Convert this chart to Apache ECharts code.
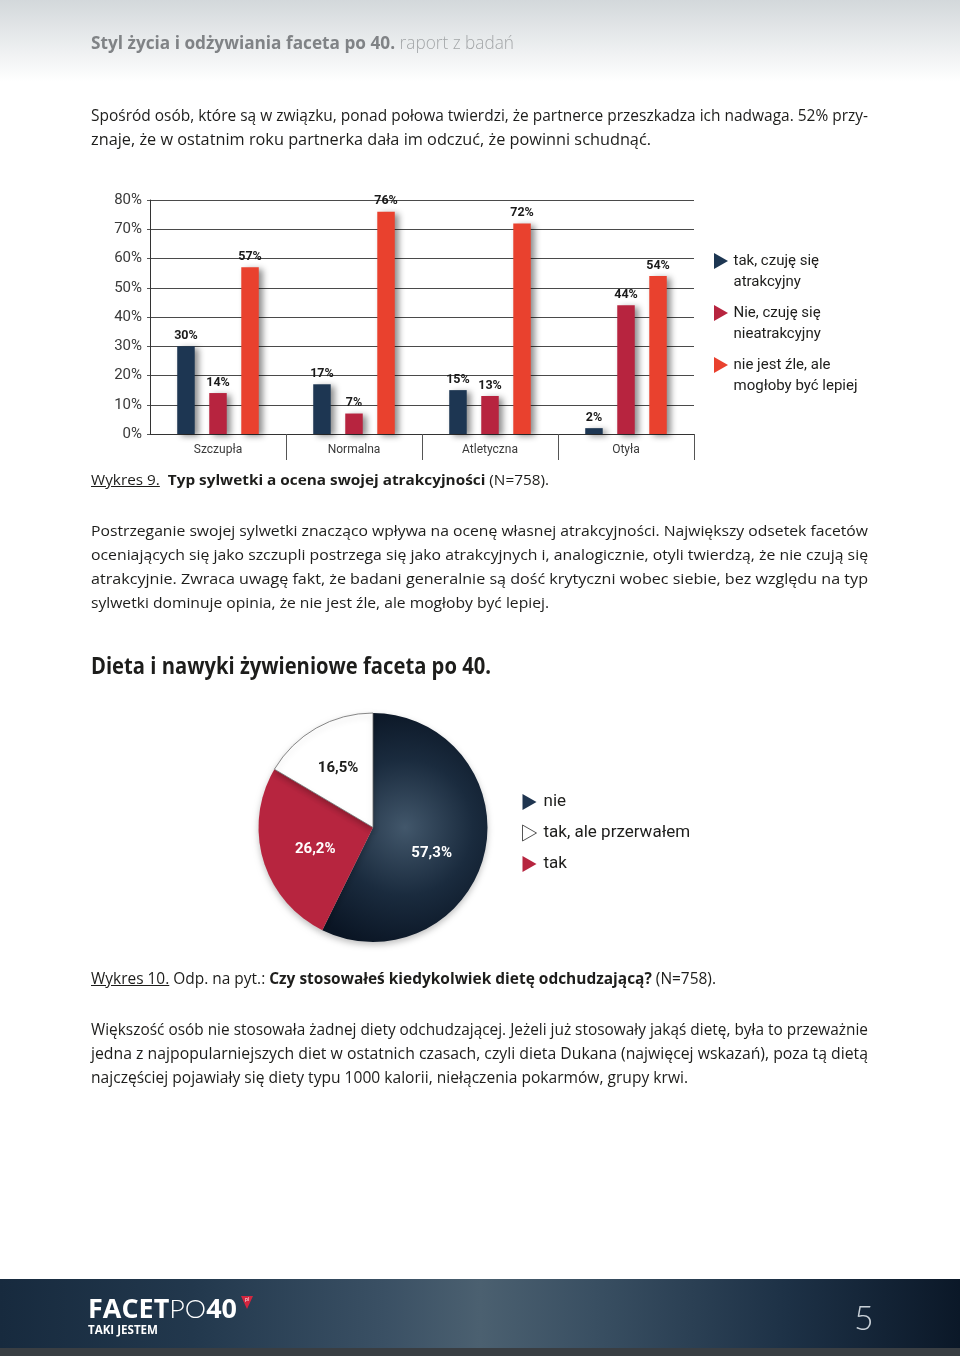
<!DOCTYPE html>
<html lang="pl"><head><meta charset="utf-8">
<script src="https://cdn.jsdelivr.net/npm/echarts@6/dist/echarts.min.js"></script>
<style>
html,body{margin:0;padding:0;background:#fff;}
body{width:960px;height:1356px;position:relative;overflow:hidden;font-family:"Open Sans","Noto Sans",sans-serif;color:#1d1d1b;}
#hdr{position:absolute;left:0;top:0;width:960px;height:82px;background:linear-gradient(#d3d8db,#ffffff);z-index:0;}
#chart{position:absolute;left:0;top:0;width:960px;height:1356px;z-index:1;}
.t{position:absolute;white-space:nowrap;transform-origin:0 50%;z-index:2;}
#foot{position:absolute;left:0;top:1279px;width:960px;height:69px;z-index:0;
 background:linear-gradient(90deg,#172a3e 0%,#22384d 20%,#3a5064 40%,#4b6070 50%,#394f62 62%,#1d3146 82%,#0b1828 100%);}
#foot2{position:absolute;left:0;top:1348px;width:960px;height:8px;background:#393e43;z-index:0;}
#logoTri{position:absolute;left:241px;top:1296px;width:0;height:0;border-left:6px solid transparent;border-right:6px solid transparent;border-top:13px solid #d3263f;z-index:2;}
</style>
</head><body>
<div id="hdr"></div>
<div id="foot"></div>
<div id="foot2"></div>
<div id="logoTri"></div>
<div id="chart"></div>
<script>
// ---------- data ----------
const categories = ['Szczupła', 'Normalna', 'Atletyczna', 'Otyła'];
const attractive = [30, 17, 15, 2];
const unattractive = [14, 7, 13, 44];
const couldBeBetter = [57, 76, 72, 54];
const barSeriesNames = ['tak, czuję się atrakcyjny', 'Nie, czuję się nieatrakcyjny', 'nie jest źle, ale mogłoby być lepiej'];
const barLegendLines = [['tak, czuję się', 'atrakcyjny'], ['Nie, czuję się', 'nieatrakcyjny'], ['nie jest źle, ale', 'mogłoby być lepiej']];
const yMin = 0, yMax = 80, yStep = 10;

const pieNames = ['nie', 'tak', 'tak, ale przerwałem'];
const pieValues = [57.3, 26.2, 16.5];
const pieLegendOrder = ['nie', 'tak, ale przerwałem', 'tak'];

// ---------- page text ----------
const textLines = [
  {h:'<b style="color:#808386">Styl życia i odżywiania faceta po 40.</b><span style="color:#a3a6a8;font-weight:300"> raport z badań</span>', x:91, y:42, w:423, fs:18},
  {h:'Spośród osób, które są w związku, ponad połowa twierdzi, że partnerce przeszkadza ich nadwaga. 52% przy-', x:91, y:115, w:777, fs:15.5},
  {h:'znaje, że w ostatnim roku partnerka dała im odczuć, że powinni schudnąć.', x:91, y:139, w:560, fs:15.5},
  {h:'<u>Wykres 9.</u>&nbsp; <b>Typ sylwetki a ocena swojej atrakcyjności</b> (N=758).', x:91, y:479, w:458, fs:15},
  {h:'Postrzeganie swojej sylwetki znacząco wpływa na ocenę własnej atrakcyjności. Największy odsetek facetów', x:91, y:530, w:777, fs:15},
  {h:'oceniających się jako szczupli postrzega się jako atrakcyjnych i, analogicznie, otyli twierdzą, że nie czują się', x:91, y:554, w:777, fs:15},
  {h:'atrakcyjnie. Zwraca uwagę fakt, że badani generalnie są dość krytyczni wobec siebie, bez względu na typ', x:91, y:578, w:777, fs:15},
  {h:'sylwetki dominuje opinia, że nie jest źle, ale mogłoby być lepiej.', x:91, y:602, w:458, fs:15},
  {h:'<b>Dieta i nawyki żywieniowe faceta po 40.</b>', x:91, y:665, w:400, fs:23},
  {h:'<u>Wykres 10.</u> Odp. na pyt.: <b>Czy stosowałeś kiedykolwiek dietę odchudzającą?</b> (N=758).', x:91, y:978, w:625, fs:15.5},
  {h:'Większość osób nie stosowała żadnej diety odchudzającej. Jeżeli już stosowały jakąś dietę, była to przeważnie', x:91, y:1029, w:777, fs:15.5},
  {h:'jedna z najpopularniejszych diet w ostatnich czasach, czyli dieta Dukana (najwięcej wskazań), poza tą dietą', x:91, y:1053, w:777, fs:15.5},
  {h:'najczęściej pojawiały się diety typu 1000 kalorii, niełączenia pokarmów, grupy krwi.', x:91, y:1077, w:597, fs:15.5},
  {h:'<b>FACET</b><span style="font-weight:300;font-family:Lato">PO</span><b>40</b>', x:88, y:1308, w:149, fs:26, c:'#ffffff'},
  {h:'<b>TAKI JESTEM</b>', x:88, y:1329, w:70, fs:12, c:'#ffffff'},
  {h:'<span style="font-family:Lato;font-weight:300">5</span>', x:854, y:1317, fs:34, c:'#c9d1d8'},
  {h:'pl', x:245, y:1299, fs:5, c:'#ffffff'}
];
textLines.forEach(l => {
  const d = document.createElement('div');
  d.className = 't';
  d.innerHTML = l.h;
  const lh = Math.round(l.fs * 1.4);
  d.style.fontSize = l.fs + 'px';
  d.style.lineHeight = lh + 'px';
  d.style.left = l.x + 'px';
  d.style.top = (l.y - lh / 2) + 'px';
  if (l.c) d.style.color = l.c;
  document.body.appendChild(d);
  if (l.w) {
    const nat = d.getBoundingClientRect().width;
    d.style.transform = 'scaleX(' + (l.w / nat) + ')';
  }
});

// ---------- chart ----------
const FONT = 'Roboto, "Open Sans", sans-serif';
const NAVY = '#1d3652', CRIMSON = '#b7243f', RED = '#e9412e';
const barColors = [NAVY, CRIMSON, RED];
const barData = [attractive, unattractive, couldBeBetter];
const tri = 'path://M0,0L14,8L0,16Z';

const barSeries = barSeriesNames.map((n, i) => ({
  name: n, type: 'bar', data: barData[i],
  barWidth: 17.5, barGap: '83%',
  itemStyle: {color: barColors[i], shadowBlur: 6, shadowOffsetX: 4, shadowOffsetY: 2, shadowColor: 'rgba(0,0,0,0.45)'},
  label: {show: true, position: 'top', distance: 4, formatter: '{c}%', fontSize: 12.5, fontWeight: 'bold', color: '#1a1a1a', fontFamily: FONT},
  emphasis: {disabled: true}
}));

const pct = v => String(v).replace('.', ',') + '%';
// label placement nudges (empty line above/below shifts the text inside the slice)
const pieStyles = {
  'nie': {itemStyle: {color: {type: 'radial', x: 0.5, y: 0.5, r: 0.75, colorStops: [
            {offset: 0, color: '#42576b'}, {offset: 0.55, color: '#1a2b3e'}, {offset: 1, color: '#0a1524'}]}},
          label: {color: '#ffffff', lineHeight: 24, formatter: p => '\n' + pct(p.value)}},
  'tak': {itemStyle: {color: '#b7253f'},
          label: {color: '#ffffff', lineHeight: 10, formatter: p => '\n' + pct(p.value)}},
  'tak, ale przerwałem': {itemStyle: {color: '#ffffff', borderColor: '#6a6a6a', borderWidth: 0.8},
          label: {color: '#1d1d1b', lineHeight: 14, padding: [0, 10, 0, 0], formatter: p => pct(p.value) + '\n'}}
};
const legendIconStyles = {
  'nie': {color: '#1f3550'},
  'tak': {color: '#b7253f'},
  'tak, ale przerwałem': {color: '#ffffff', borderColor: '#555', borderWidth: 1}
};

const pieSeries = {
  type: 'pie', center: [373, 827.5], radius: [0, 114.5], startAngle: 90, clockwise: true,
  avoidLabelOverlap: false,
  itemStyle: {shadowBlur: 6, shadowOffsetY: 3, shadowColor: 'rgba(0,0,0,0.25)'},
  label: {show: true, position: 'inside', fontSize: 15, fontWeight: 'bold', fontFamily: FONT},
  labelLine: {show: false},
  emphasis: {disabled: true},
  data: pieNames.map((n, i) => Object.assign({name: n, value: pieValues[i]}, pieStyles[n]))
};

const barLegends = barSeriesNames.map((n, i) => ({
  data: [n], orient: 'vertical', left: 714, top: 229.5 + i * 52, padding: 0,
  icon: tri, itemWidth: 15, itemHeight: 16, selectedMode: false,
  formatter: () => '\n' + barLegendLines[i].join('\n'),
  textStyle: {fontSize: 15, lineHeight: 21, color: '#1d1d1b', fontFamily: FONT}
}));
const pieLegend = {
  data: pieLegendOrder.map(n => ({name: n, itemStyle: legendIconStyles[n]})),
  orient: 'vertical', left: 522, top: 792, padding: 0, itemGap: 11,
  icon: tri, itemWidth: 14, itemHeight: 16, selectedMode: false,
  textStyle: {fontSize: 17, lineHeight: 20, color: '#1d1d1b', fontFamily: FONT, padding: [0, 0, 0, 2]}
};

const chart = echarts.init(document.getElementById('chart'));
chart.setOption({
  animation: false,
  textStyle: {fontFamily: FONT},
  grid: {left: 150, top: 200, width: 544, height: 234},
  xAxis: {
    type: 'category', data: categories,
    axisLine: {lineStyle: {color: '#333', width: 1}},
    axisTick: {show: true, length: 26, interval: (i) => i > 0, lineStyle: {color: '#555'}},
    axisLabel: {margin: 10, fontSize: 12, color: '#3a3a3a', fontFamily: FONT}
  },
  yAxis: {
    type: 'value', min: yMin, max: yMax, interval: yStep,
    axisLine: {show: true, lineStyle: {color: '#333'}},
    axisTick: {show: true, length: 3, lineStyle: {color: '#555'}},
    axisLabel: {formatter: '{value}%', fontSize: 15, color: '#3a3a3a', margin: 8, fontFamily: FONT},
    splitLine: {lineStyle: {color: '#4a4a4a', width: 1}}
  },
  legend: barLegends.concat([pieLegend]),
  series: barSeries.concat([pieSeries])
});
</script>
</body></html>
